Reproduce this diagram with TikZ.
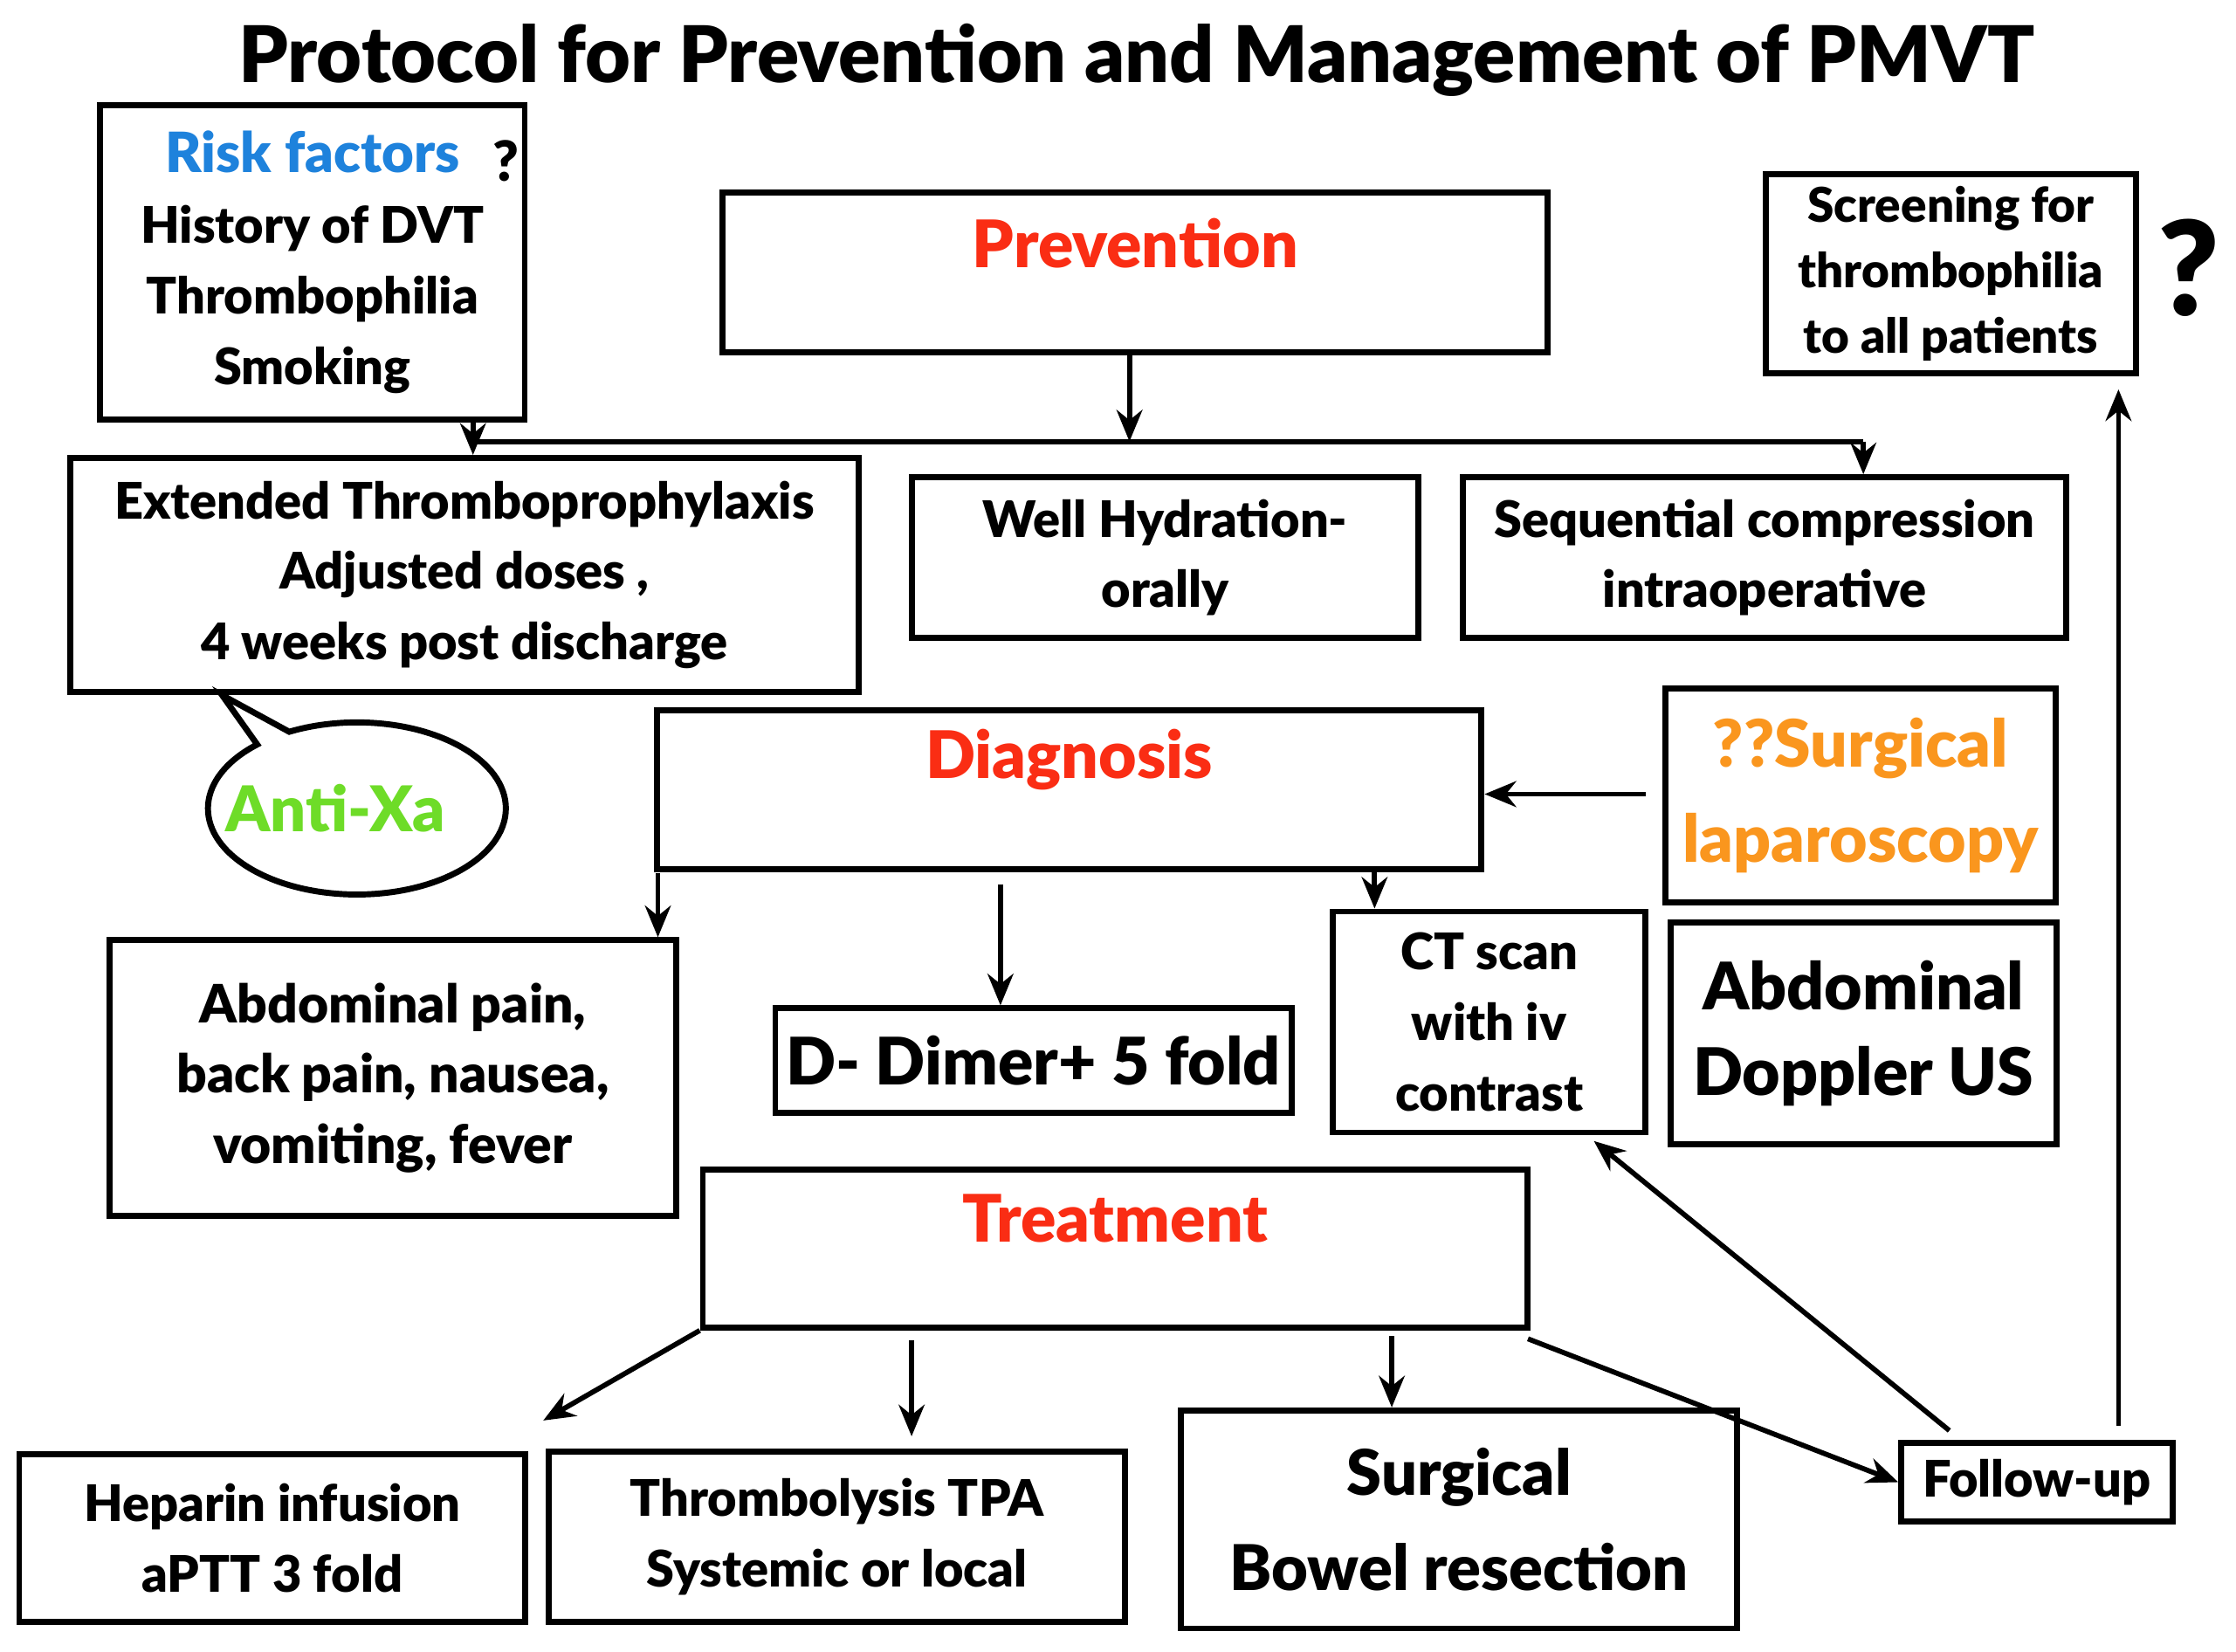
\documentclass[tikz,border=0pt]{standalone}
\usepackage{fontspec}
\setmainfont{Lato}[BoldFont=Lato Black]
\usetikzlibrary{arrows.meta, positioning, calc, shapes.callouts}
\definecolor{riskblue}{RGB}{30,130,220}
\definecolor{headred}{RGB}{250,45,20}
\definecolor{labgreen}{RGB}{110,220,40}
\definecolor{lapor}{RGB}{250,150,30}

\begin{document}
\begin{tikzpicture}[x=0.01cm, y=-0.01cm,
            box/.style={rectangle, draw=black, line width=1.2pt, fill=white, align=center, inner sep=2pt, font=\fontsize{10}{14}\selectfont\bfseries},
            head/.style={font=\fontsize{13}{15}\selectfont\bfseries, text=headred},
            arrow/.style={-{Stealth[length=2.2mm, width=1.8mm]}, line width=1pt}
        ]
    \useasboundingbox (0,0) rectangle (1560,1152);

    \node[font=\fontsize{15.5}{18}\selectfont\bfseries] (title) at (793,42) {Protocol for Prevention and Management of PMVT};

    % prevention part
    \node[box, minimum width=29.6mm, minimum height=21.9mm] (risk) at (218,183) {\textcolor{riskblue}{\fontsize{11}{14}\selectfont Risk factors}\\History of DVT\\Thrombophilia\\Smoking};
    \node[font=\fontsize{11}{12}\selectfont\bfseries] (riskq) at (353,112) {?};
    \node[box, minimum width=57.5mm, minimum height=11.1mm] (prev) at (792,190) {};
    \node[head] (prevt) at (792,170) {Prevention};
    \node[box, font=\fontsize{9.5}{13}\selectfont\bfseries, minimum width=25.8mm, minimum height=13.9mm] (screen) at (1361,191) {Screening for\\thrombophilia\\to all patients};
    \node[font=\fontsize{26}{28}\selectfont\bfseries] (screenq) at (1527,187) {?};

    \node[box, minimum width=55mm, minimum height=16.3mm] (ext) at (324,401) {Extended Thromboprophylaxis\\Adjusted doses ,\\4 weeks post discharge};
    \node[box, minimum width=35.3mm, minimum height=11.2mm] (hydr) at (813,389) {Well Hydration-\\orally};
    \node[box, minimum width=42.1mm, minimum height=11.2mm] (seq) at (1231,389) {Sequential compression\\intraoperative};

    \coordinate (split) at (788,308);
    \coordinate (splitL) at (330,308);
    \coordinate (splitR) at (1300,308);
    \draw[line width=1pt] (splitL) -- (splitR);
    \draw[arrow] (prev.south -| split) -- (split);
    \draw[arrow] (splitL) -- (ext.north -| splitL);
    \draw[arrow] (splitR) -- (seq.north -| splitR);
    \draw[line width=1pt] (risk.south -| splitL) -- (splitL);

    \node[ellipse callout, draw=black, line width=1.2pt, minimum width=18.6mm, minimum height=12mm,
          callout absolute pointer={(155,485)}, font=\fontsize{12.5}{14}\selectfont\bfseries, text=labgreen] (antixa) at (249,564) {\hspace*{-3mm}Anti-Xa};

    % diagnosis part
    \node[box, minimum width=57.5mm, minimum height=11.1mm] (diag) at (746,551) {};
    \node[head] (diagt) at (746,530) {Diagnosis};
    \node[box, font=\fontsize{13}{19}\selectfont\bfseries, text=lapor, minimum width=27.2mm, minimum height=14.9mm] (lap) at (1298,555) {??Surgical\\laparoscopy};
    \coordinate (lapin) at (1148,554);
    \draw[arrow] (lapin) -- (diag.east |- lapin);

    \node[box, font=\fontsize{10.5}{14}\selectfont\bfseries, minimum width=39.5mm, minimum height=19.2mm] (pain) at (274,752) {Abdominal pain,\\back pain, nausea,\\vomiting, fever};
    \node[box, font=\fontsize{13}{15}\selectfont\bfseries, minimum width=36mm, minimum height=7.3mm] (dimer) at (721,740) {D- Dimer+ 5 fold};
    \node[box, minimum width=21.8mm, minimum height=15.4mm] (ct) at (1039,713) {CT scan\\with iv\\contrast};
    \node[box, font=\fontsize{13}{17}\selectfont\bfseries, minimum width=26.9mm, minimum height=15.5mm] (doppler) at (1300,721) {Abdominal\\Doppler US};

    \coordinate (dA) at (459,609);
    \coordinate (dB) at (698,617);
    \coordinate (dC) at (959,604);
    \draw[arrow] (dA) -- (pain.north -| dA);
    \draw[arrow] (dB) -- (dimer.north -| dB);
    \draw[arrow] (dC) -- (ct.north -| dC);

    % treatment part
    \node[box, minimum width=57.5mm, minimum height=11mm] (treat) at (778,871) {};
    \node[head] (treatt) at (778,850) {Treatment};
    \node[box, minimum width=35.3mm, minimum height=11.7mm] (hep) at (190,1073) {Heparin infusion\\aPTT 3 fold};
    \node[box, minimum width=40.2mm, minimum height=11.9mm] (lysis) at (584,1072) {Thrombolysis TPA\\Systemic or local};
    \node[box, font=\fontsize{12.5}{19}\selectfont\bfseries, minimum width=38.8mm, minimum height=15.2mm] (bowel) at (1018,1060) {Surgical\\Bowel resection};
    \node[box, minimum width=18.9mm, minimum height=5.5mm] (follow) at (1421,1034) {Follow-up};

    \coordinate (tA) at (379,991);
    \coordinate (tB) at (636,935);
    \coordinate (tBe) at (636,1002);
    \coordinate (tC) at (971,932);
    \coordinate (tD) at (1066,934);
    \coordinate (fA) at (1360,998);
    \coordinate (ctin) at (1112,796);
    \coordinate (fB) at (1478,995);
    \draw[arrow] (treat.south west) -- (tA);
    \draw[arrow] (tB) -- (tBe);
    \draw[arrow] (tC) -- (bowel.north -| tC);
    \draw[arrow] (tD) -- (follow.west);
    \draw[arrow] (fA) -- (ctin);
    \draw[arrow] (fB) -- ($(screen.south -| fB)+(0,9)$);
\end{tikzpicture}
\end{document}
